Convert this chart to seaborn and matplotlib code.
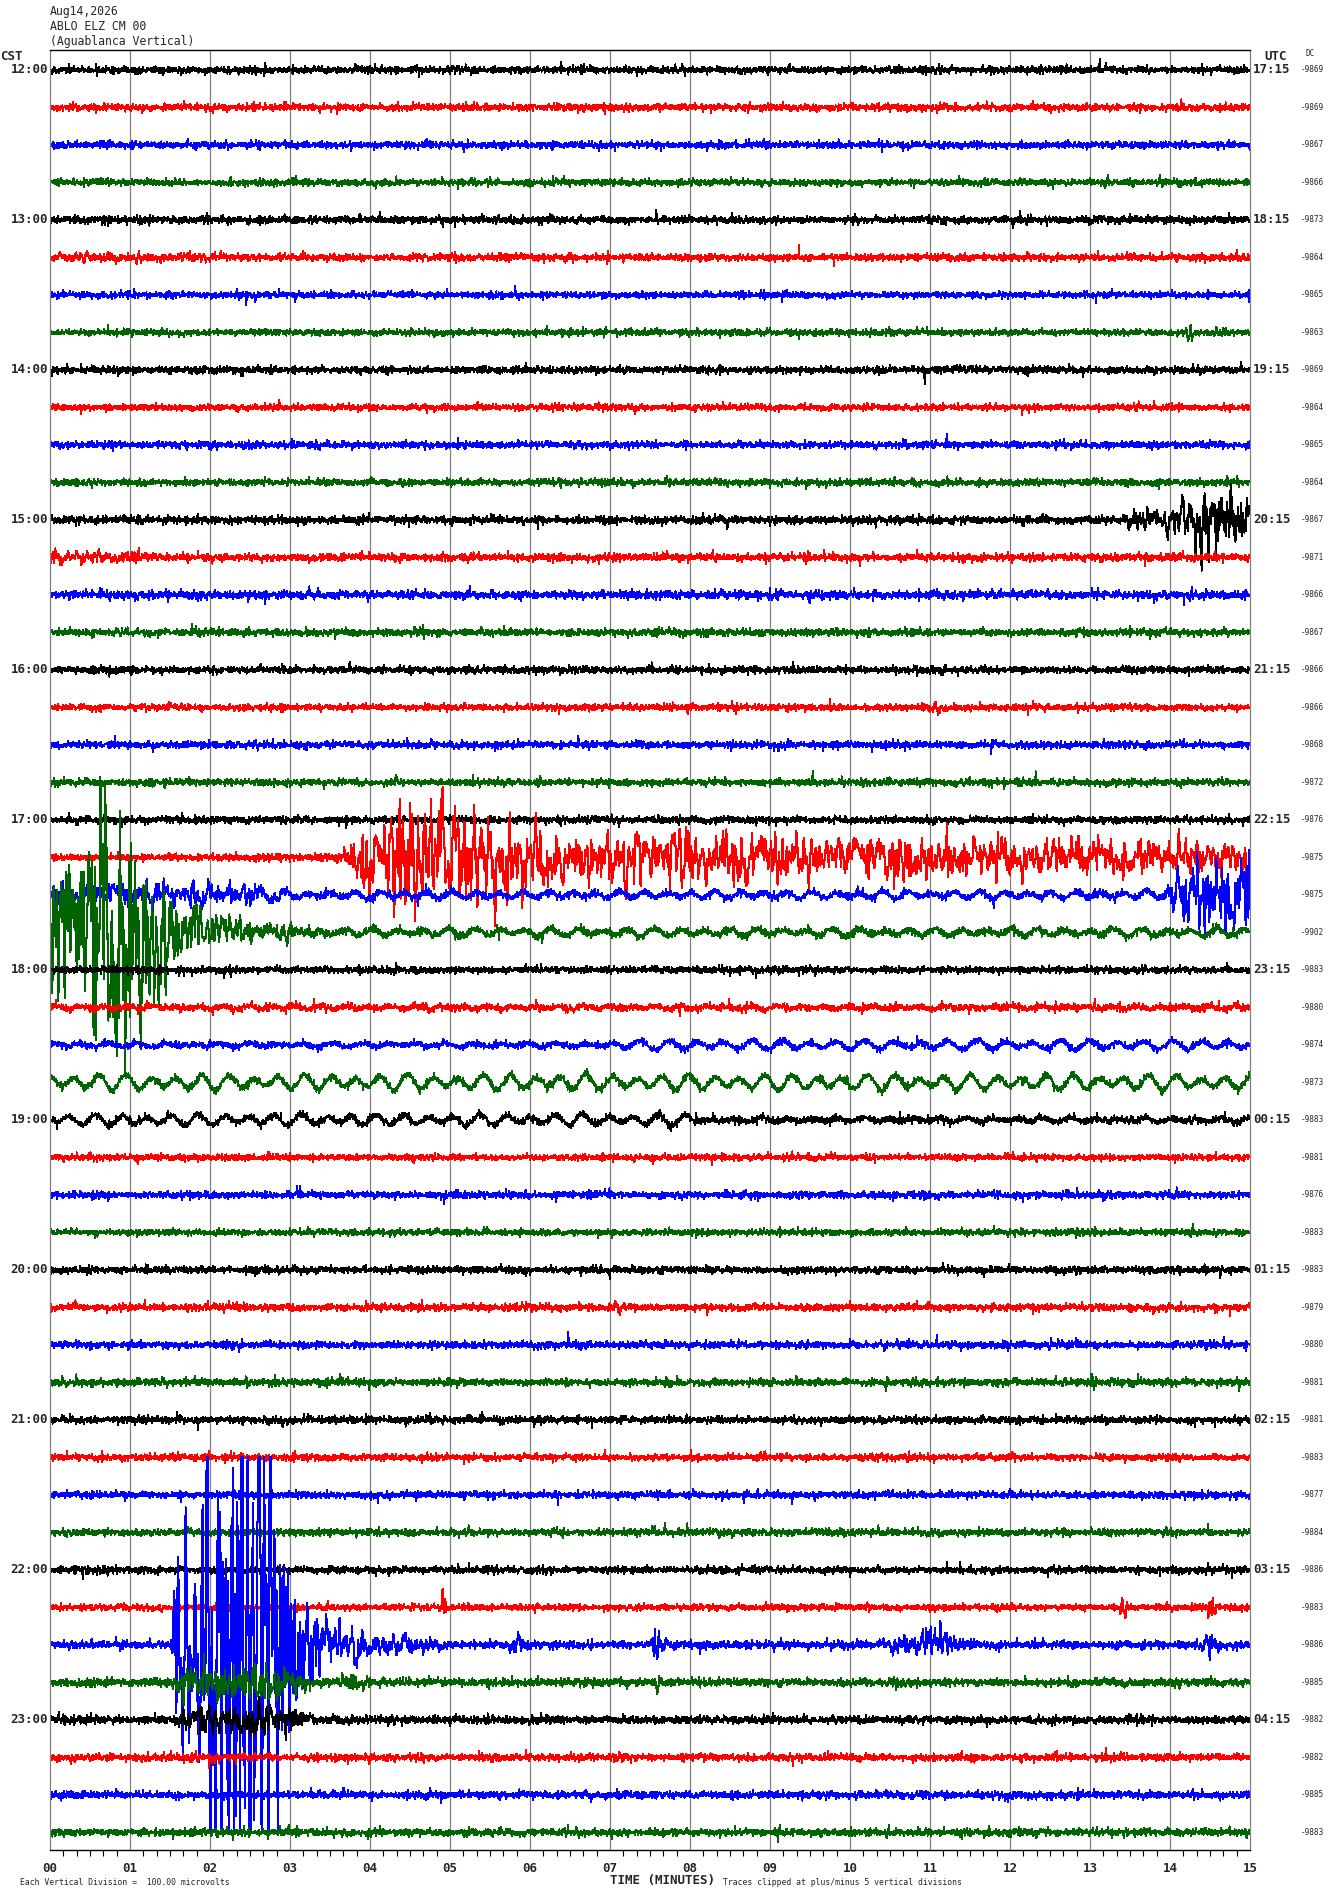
import numpy as np
import pandas as pd
import matplotlib
matplotlib.use("Agg")
import matplotlib.pyplot as plt
from matplotlib.ticker import MultipleLocator
import seaborn as sns

W, H = 1330, 1894

station_lines = ["Aug14,2026", "ABLO ELZ CM 00", "(Aguablanca Vertical)"]
cst_hours = ["12:00", "13:00", "14:00", "15:00", "16:00", "17:00",
             "18:00", "19:00", "20:00", "21:00", "22:00", "23:00"]
utc_hours = ["17:15", "18:15", "19:15", "20:15", "21:15", "22:15",
             "23:15", "00:15", "01:15", "02:15", "03:15", "04:15"]
dc_values = [-9869, -9869, -9867, -9866, -9873, -9864, -9865, -9863,
             -9869, -9864, -9865, -9864, -9867, -9871, -9866, -9867,
             -9866, -9866, -9868, -9872, -9876, -9875, -9875, -9902,
             -9883, -9880, -9874, -9873, -9883, -9881, -9876, -9883,
             -9883, -9879, -9880, -9881, -9881, -9883, -9877, -9884,
             -9886, -9883, -9886, -9885, -9882, -9882, -9885, -9883]
trace_colors = ["#000000", "#ff0000", "#0000ff", "#006400"]
minute_labels = [f"{m:02d}" for m in range(16)]

# background noise level of each 15-minute line (vertical divisions)
noise_level = [0.040, 0.040, 0.040, 0.038, 0.042, 0.040, 0.036, 0.036,
               0.040, 0.036, 0.040, 0.038, 0.044, 0.042, 0.046, 0.040,
               0.040, 0.036, 0.040, 0.040, 0.040, 0.040, 0.040, 0.042,
               0.040, 0.040, 0.036, 0.042, 0.040, 0.036, 0.040, 0.036,
               0.040, 0.040, 0.040, 0.042, 0.040, 0.038, 0.040, 0.040,
               0.040, 0.036, 0.044, 0.044, 0.044, 0.042, 0.042, 0.042]

# events: line, envelope times (min), envelope peak amplitude (divisions)
events = [
    (0, [12.35, 12.40, 12.50], [0, 0.25, 0]),
    (5, [0.0, 2.0, 2.3], [0.10, 0.08, 0]),
    (7, [14.18, 14.22, 14.30], [0, 0.35, 0]),
    (8, [10.8, 11.3, 12.2], [0, 0.10, 0]),
    (12, [12.35, 12.40, 12.50], [0, 0.30, 0]),
    (12, [13.3, 13.6, 14.0, 14.3, 14.45, 14.6, 15.0], [0, 0.45, 0.5, 0.9, 1.9, 1.1, 0.6]),
    (13, [0.0, 1.3, 1.5], [0.20, 0.15, 0]),
    (17, [8.50, 8.55, 8.70], [0, 0.15, 0]),
    (17, [11.0, 11.1, 11.3], [0, 0.20, 0]),
    (19, [6.05, 6.10, 6.20], [0, 0.30, 0]),
    (21, [3.5, 3.8, 4.5, 5.2, 5.6, 7.0, 10.0, 15.0], [0, 0.6, 1.8, 1.6, 1.0, 0.8, 0.65, 0.45]),
    (22, [0.0, 2.5, 3.0], [0.35, 0.30, 0.05]),
    (22, [13.9, 14.1, 14.5, 15.0], [0, 0.9, 1.1, 1.3]),
    (23, [0.0, 0.3, 0.6, 1.1, 1.3, 1.6, 2.0, 2.6, 3.5], [1.6, 2.2, 4.5, 4.2, 2.0, 1.0, 0.55, 0.25, 0.08]),
    (25, [13.5, 13.65, 13.8], [0, 0.12, 0]),
    (33, [0.25, 0.30, 0.40], [0, 0.20, 0]),
    (33, [7.05, 7.10, 7.20], [0, 0.50, 0]),
    (33, [13.75, 13.80, 13.90], [0, 0.20, 0]),
    (35, [12.95, 13.00, 13.15], [0, 0.35, 0]),
    (36, [2.85, 2.90, 3.05], [0, 0.30, 0]),
    (37, [8.85, 8.90, 9.00], [0, 0.20, 0]),
    (41, [4.85, 4.90, 5.00], [0, 0.35, 0]),
    (41, [13.35, 13.40, 13.50], [0, 0.50, 0]),
    (41, [14.45, 14.50, 14.60], [0, 0.60, 0]),
    (42, [1.5, 1.6, 1.9, 2.0, 2.8, 3.0, 3.3, 3.6, 4.3, 5.0], [0, 3.0, 3.5, 9.0, 9.0, 3.0, 1.3, 0.7, 0.35, 0.1]),
    (42, [3.85, 3.95, 4.15], [0, 0.6, 0]),
    (42, [5.70, 5.80, 6.00], [0, 0.5, 0]),
    (42, [7.45, 7.55, 7.75], [0, 0.5, 0]),
    (42, [10.2, 10.8, 11.1, 11.6], [0, 0.4, 0.55, 0]),
    (42, [14.3, 14.5, 14.7], [0, 0.4, 0]),
    (43, [1.5, 1.7, 2.9, 3.2], [0, 0.5, 0.5, 0.1]),
    (43, [3.5, 3.8, 4.1], [0, 0.4, 0]),
    (43, [7.55, 7.60, 7.70], [0, 0.45, 0]),
    (43, [10.4, 10.6, 10.8], [0, 0.2, 0]),
    (44, [1.5, 1.7, 3.0, 3.4], [0, 0.4, 0.45, 0]),
    (45, [0.20, 0.25, 0.35], [0, 0.30, 0]),
    (45, [7.0, 7.1, 7.2], [0, 0.20, 0]),
]

# long-period surface-wave swell: line, start, end (min), amplitude, period (min)
swell = [
    (22, 0.0, 15.0, 0.07, 0.30),
    (23, 2.0, 15.0, 0.07, 0.32),
    (25, 0.0, 15.0, 0.03, 0.30),
    (26, 0.0, 7.0, 0.04, 0.35),
    (26, 7.0, 15.0, 0.09, 0.35),
    (27, 0.0, 15.0, 0.15, 0.32),
    (28, 0.0, 8.0, 0.11, 0.32),
    (28, 8.0, 15.0, 0.04, 0.32),
]

n_lines = len(dc_values)
minutes = np.arange(0, 15, 1 / 240)
rng = np.random.default_rng(14)  # fine texture of the wiggles only
kernel = np.hanning(7)[1:-1]
kernel = kernel / np.sqrt((kernel ** 2).sum())

frames = []
for r in range(n_lines):
    sig = noise_level[r] * rng.standard_t(10, minutes.size)
    for row, tt, aa in events:
        if row != r:
            continue
        env = np.interp(minutes, tt, aa, left=0, right=0)
        carrier = np.convolve(rng.standard_normal(minutes.size), kernel, mode="same")
        sig += env / 2.4 * carrier
    for row, t0, t1, amp, per in swell:
        if row != r:
            continue
        win = (minutes >= t0) & (minutes < t1)
        wave = amp * (np.sin(2 * np.pi * minutes / per + r) + 0.4 * np.sin(2 * np.pi * minutes / (per * 1.37)))
        sig += np.where(win, wave, 0)
    base = n_lines - (r + 0.53)
    frames.append(pd.DataFrame({
        "minute": minutes,
        "level": base + np.clip(sig, -5, 5),
        "trace": f"L{r:02d}",
    }))
df = pd.concat(frames, ignore_index=True)
palette = {f"L{r:02d}": trace_colors[r % 4] for r in range(n_lines)}

sns.set_style("white")
plt.rcParams["font.family"] = ["DejaVu Sans Mono"]

fig = plt.figure(figsize=(W / 100, H / 100), dpi=100)
ax = fig.add_axes([50 / W, 44 / H, 1200 / W, 1800 / H])

for m in range(1, 15):
    ax.axvline(m, color="#808080", lw=0.9, zorder=0)

sns.lineplot(data=df, x="minute", y="level", hue="trace", palette=palette,
             estimator=None, sort=False, legend=False, linewidth=0.75,
             antialiased=False, ax=ax)

ax.set_xlim(0, 15)
ax.set_ylim(0, n_lines)
ax.set_xlabel("")
ax.set_ylabel("")
ax.set_yticks([])
ax.set_xticks(range(16))
ax.set_xticklabels(minute_labels, fontsize=9, fontweight="bold")
ax.xaxis.set_minor_locator(MultipleLocator(1 / 6))
ax.tick_params(axis="x", which="major", direction="out", length=6.5, width=0.8,
               color="black", pad=2)
ax.tick_params(axis="x", which="minor", direction="out", length=4.3, width=0.8,
               color="black", bottom=True)
for side in ["left", "right"]:
    ax.spines[side].set_color("#808080")
    ax.spines[side].set_linewidth(0.9)
for side in ["top", "bottom"]:
    ax.spines[side].set_color("black")
    ax.spines[side].set_linewidth(1.0)


def px(x, y):
    return x / W, 1 - y / H


for i, s in enumerate(station_lines):
    fig.text(*px(50, 12 + i * 15), s, fontsize=8.3, ha="left", va="center")

fig.text(*px(0, 57), "CST", fontsize=9, fontweight="bold", ha="left", va="center")
fig.text(*px(1276, 57), "UTC", fontsize=9, fontweight="bold", ha="center", va="center")
fig.text(*px(1306, 54), "DC", fontsize=5.5, ha="left", va="center")

for r in range(n_lines):
    yy = 50 + (r + 0.53) * 37.5
    if r % 4 == 0:
        fig.text(*px(48, yy), cst_hours[r // 4], fontsize=9, fontweight="bold",
                 ha="right", va="center")
        fig.text(*px(1253, yy), utc_hours[r // 4], fontsize=9, fontweight="bold",
                 ha="left", va="center")
    fig.text(*px(1301, yy), f"{dc_values[r]}", fontsize=5.6, ha="left", va="center")

fig.text(*px(20, 1882), "Each Vertical Division =  100.00 microvolts", fontsize=5.9,
         ha="left", va="center")
fig.text(*px(662, 1880), "TIME (MINUTES)", fontsize=9, fontweight="bold",
         ha="center", va="center")
fig.text(*px(723, 1882), "Traces clipped at plus/minus 5 vertical divisions", fontsize=5.9,
         ha="left", va="center")

fig.savefig("out.png", dpi=100)
